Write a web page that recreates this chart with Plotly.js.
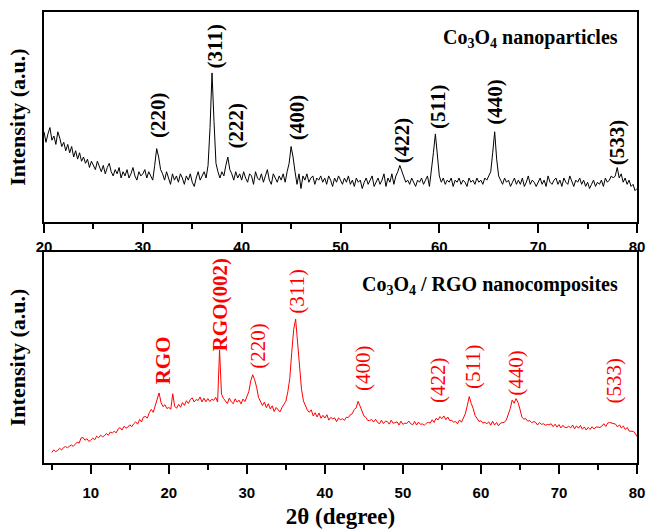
<!DOCTYPE html>
<html>
<head>
<meta charset="utf-8">
<script src="https://cdn.plot.ly/plotly-3.0.1.min.js"></script>
<style>html,body{margin:0;padding:0;background:#fff;}#chart{width:648px;height:531px;}</style>
</head>
<body>
<div id="chart"></div>
<script>
// ---- Data ----
// Top panel: Co3O4 nanoparticles, 2θ from 20° to 80° in 0.2° steps
const co3o4Start = 20;
const co3o4Step = 0.2;
const co3o4Intensity = [
  43, 38, 42, 45, 39, 41, 37, 43, 40, 36,
  38, 34, 37, 33, 36, 31, 34, 30, 33, 29,
  31, 28, 30, 26, 29, 27, 25, 29, 26, 24,
  27, 23, 26, 28, 24, 22, 25, 23, 26, 21,
  24, 22, 25, 21, 23, 26, 22, 20, 24, 22,
  23, 25, 21, 24, 22, 20, 27, 35, 31, 25,
  23, 20, 24, 21, 18, 23, 20, 22, 19, 23,
  21, 18, 22, 20, 23, 19, 17, 21, 24, 20,
  22, 24, 21, 27, 45, 71, 48, 28, 24, 21,
  24, 22, 27, 31, 25, 23, 20, 24, 21, 23,
  20, 24, 21, 19, 23, 22, 18, 24, 21, 20,
  23, 19, 22, 25, 20, 18, 23, 21, 19, 22,
  20, 23, 19, 24, 28, 36, 31, 24, 18, 23,
  16, 22, 20, 23, 19, 21, 22, 18, 21, 20,
  22, 19, 21, 18, 22, 20, 17, 21, 19, 22,
  20, 18, 21, 19, 22, 18, 20, 17, 21, 19,
  20, 16, 19, 21, 18, 20, 22, 17, 19, 21,
  18, 20, 23, 17, 21, 19, 23, 18, 22, 24,
  27, 24, 21, 19, 20, 18, 21, 19, 17, 20,
  19, 21, 18, 20, 22, 17, 24, 33, 42, 30,
  22, 19, 21, 18, 20, 19, 21, 17, 20, 19,
  21, 18, 20, 19, 17, 21, 19, 20, 18, 21,
  19, 20, 18, 21, 20, 22, 24, 33, 43, 30,
  22, 20, 18, 21, 19, 20, 17, 19, 21, 18,
  20, 18, 21, 17, 19, 22, 18, 20, 19, 17,
  19, 21, 18, 20, 17, 22, 19, 18, 20, 21,
  18, 20, 17, 21, 19, 18, 22, 19, 17, 20,
  19, 21, 18, 20, 17, 19, 16, 18, 20, 17,
  19, 18, 20, 17, 21, 19, 20, 22, 21, 22,
  26, 21, 23, 19, 21, 18, 20, 17, 18, 15,
  16
];
const co3o4Labels = ["(220)", "(311)", "(222)", "(400)", "(422)", "(511)", "(440)", "(533)"];
const co3o4LabelX = [31.6, 37.3, 39.4, 45.6, 56.3, 59.8, 65.6, 78.0];
const co3o4LabelY = [38.9, 72.2, 34, 38, 27, 43.6, 45.2, 26.2];

// Bottom panel: Co3O4 / RGO nanocomposites, 2θ from 5° to 80° in 0.25° steps
const compStart = 5;
const compStep = 0.25;
const compIntensity = [
  5.0, 6.2, 5.4, 5.9, 7.0, 6.1, 7.3, 7.8,
  7.2, 8.1, 8.6, 7.9, 9.0, 9.9, 9.4, 11.8,
  12.1, 10.8, 11.5, 10.2, 10.9, 11.8, 11.0, 12.7,
  11.9, 13.2, 12.4, 12.9, 14.0, 13.1, 14.7, 14.2,
  15.0, 14.3, 16.1, 16.8, 15.6, 17.4, 16.5, 17.0,
  18.1, 17.2, 18.6, 19.5, 18.4, 20.6, 19.5, 21.8,
  22.0, 21.3, 23.9, 25.4, 24.0, 27.2, 29.3, 33.2,
  28.6, 26.7, 27.6, 25.8, 26.3, 25.5, 32.8, 26.8,
  26.0, 27.8, 26.4, 28.6, 27.3, 29.5, 28.2, 30.1,
  30.8, 28.9, 30.1, 29.6, 31.3, 28.9, 30.7, 29.0,
  30.5, 29.1, 30.2, 29.7, 31.1, 28.9, 53.5, 32.6,
  30.6, 29.3, 28.2, 30.8, 29.0, 28.1, 30.4, 28.8,
  29.8, 28.0, 30.3, 29.1, 31.7, 33.8, 38.9, 41.8,
  39.4, 35.9, 31.0, 29.4, 27.2, 28.9, 26.2, 28.1,
  25.6, 27.1, 24.4, 26.3, 25.3, 24.2, 26.3, 27.6,
  29.3, 33.8, 40.0, 52.4, 63.2, 68.2, 57.8, 44.8,
  35.0, 29.4, 27.3, 25.1, 24.0, 25.2, 22.3, 23.8,
  21.8, 23.7, 21.2, 22.6, 21.3, 22.9, 20.3, 21.6,
  20.9, 21.4, 19.6, 21.3, 20.5, 21.0, 20.2, 21.7,
  21.5, 22.8, 23.3, 25.3, 26.1, 29.2, 27.0, 24.8,
  22.3, 21.6, 20.1, 20.2, 20.6, 19.4, 20.7, 19.2,
  18.6, 20.3, 18.7, 19.8, 19.6, 18.4, 20.3, 18.8,
  19.0, 19.5, 18.0, 19.8, 18.3, 18.9, 18.7, 19.9,
  18.6, 18.1, 19.7, 18.0, 19.4, 18.3, 18.5, 17.9,
  18.8, 19.3, 18.9, 20.5, 19.2, 21.2, 20.4, 22.0,
  21.0, 22.3, 20.5, 21.8, 20.1, 20.2, 19.4, 19.6,
  18.6, 20.4, 19.3, 21.6, 23.3, 27.2, 31.5, 28.3,
  25.9, 22.5, 21.3, 19.7, 20.0, 18.9, 19.3, 18.6,
  19.5, 17.9, 19.8, 18.0, 19.2, 17.6, 18.9, 19.1,
  19.3, 20.4, 22.8, 25.7, 29.8, 28.3, 30.5, 28.7,
  25.5, 21.7, 20.8, 21.0, 19.8, 20.1, 19.1, 19.6,
  19.3, 18.0, 19.2, 18.3, 18.6, 17.9, 18.2, 18.1,
  18.6, 17.2, 18.4, 17.0, 18.2, 16.6, 17.9, 16.8,
  16.8, 17.4, 16.6, 18.0, 16.2, 17.6, 16.5, 17.8,
  16.0, 17.1, 15.6, 16.9, 15.9, 17.2, 16.1, 17.1,
  17.0, 16.8, 17.5, 18.6, 17.3, 18.9, 19.2, 18.9,
  18.8, 18.4, 17.1, 18.1, 16.6, 17.5, 15.9, 16.8,
  15.1, 15.0, 15.0, 14.2, 12.5
];
const compLabels = ["RGO", "RGO(002)", "(220)", "(311)", "(400)", "(422)", "(511)", "(440)", "(533)"];
const compLabelBold = [true, true, false, false, false, false, false, false, false];
const compLabelX = [19.3, 26.5, 31.4, 36.5, 44.8, 54.5, 58.9, 64.5, 77.0];
const compLabelY = [36.5, 52, 43.6, 69.8, 33.3, 27.5, 34, 31, 27];

const topTitle = "Co<sub>3</sub>O<sub>4</sub> nanoparticles";
const bottomTitle = "Co<sub>3</sub>O<sub>4</sub> / RGO nanocomposites";
const xTitle = "2θ (degree)";
const yTitle = "Intensity (a.u.)";

// ---- Styling ----
const SERIF = "Liberation Serif, Times New Roman, serif";
const SANS = "Liberation Sans, Arial, sans-serif";

const traces = [
  {
    type: "scatter", mode: "lines",
    x0: co3o4Start, dx: co3o4Step, y: co3o4Intensity,
    xaxis: "x", yaxis: "y",
    line: {color: "#000000", width: 1},
    hoverinfo: "skip", showlegend: false
  },
  {
    type: "scatter", mode: "lines",
    x0: compStart, dx: compStep, y: compIntensity,
    xaxis: "x2", yaxis: "y2",
    line: {color: "#ff0000", width: 1},
    hoverinfo: "skip", showlegend: false
  }
];

const annotations = [];
co3o4Labels.forEach((t, i) => {
  annotations.push({
    xref: "x", yref: "y", x: co3o4LabelX[i], y: co3o4LabelY[i],
    text: "<b>" + t + "</b>", textangle: -90, showarrow: false,
    xanchor: "center", yanchor: "bottom",
    font: {family: SERIF, size: 21, color: "#000000"}
  });
});
compLabels.forEach((t, i) => {
  annotations.push({
    xref: "x2", yref: "y2", x: compLabelX[i], y: compLabelY[i],
    text: compLabelBold[i] ? "<b>" + t + "</b>" : t, textangle: -90, showarrow: false,
    xanchor: "center", yanchor: "bottom",
    font: {family: SERIF, size: 21, color: "#ff0000"}
  });
});
annotations.push({
  xref: "x domain", yref: "y domain", x: 0.971, y: 0.876,
  text: "<b>" + topTitle + "</b>", showarrow: false,
  xanchor: "right", yanchor: "middle",
  font: {family: SERIF, size: 20, color: "#000000"}
});
annotations.push({
  xref: "x2 domain", yref: "y2 domain", x: 0.971, y: 0.839,
  text: "<b>" + bottomTitle + "</b>", showarrow: false,
  xanchor: "right", yanchor: "middle",
  font: {family: SERIF, size: 20, color: "#000000"}
});

const xCommon = {
  showline: true, linewidth: 2, linecolor: "#000", mirror: true,
  showgrid: false, zeroline: false,
  ticks: "outside", ticklen: 9, tickwidth: 2, tickcolor: "#000",
  tick0: 0, dtick: 10,
  minor: {ticks: "outside", dtick: 5, ticklen: 5, tickwidth: 2, tickcolor: "#000", showgrid: false},
  tickfont: {family: SANS, size: 15, color: "#000", weight: "bold"}
};
const yCommon = {
  range: [0, 100], showline: true, linewidth: 2, linecolor: "#000", mirror: true,
  showgrid: false, zeroline: false, ticks: "", showticklabels: false,
  title: {text: "<b>" + yTitle + "</b>", font: {family: SERIF, size: 22, color: "#000"}, standoff: 10}
};

const layout = {
  width: 648, height: 531,
  margin: {l: 44, r: 11, t: 12, b: 68},
  paper_bgcolor: "#fff", plot_bgcolor: "#fff",
  showlegend: false,
  xaxis: Object.assign({}, xCommon, {domain: [0, 1], anchor: "y", range: [20, 80], ticklabelstandoff: 1}),
  yaxis: Object.assign({}, yCommon, {domain: [0.534, 1], anchor: "x"}),
  xaxis2: Object.assign({}, xCommon, {domain: [0, 1], anchor: "y2", range: [4, 80], ticklabelstandoff: 6,
    title: {text: "<b>" + xTitle + "</b>", font: {family: SERIF, size: 23, color: "#000"}, standoff: 8}}),
  yaxis2: Object.assign({}, yCommon, {domain: [0, 0.468], anchor: "x2"}),
  annotations: annotations
};

Plotly.newPlot("chart", traces, layout, {staticPlot: true, displayModeBar: false});
</script>
</body>
</html>
